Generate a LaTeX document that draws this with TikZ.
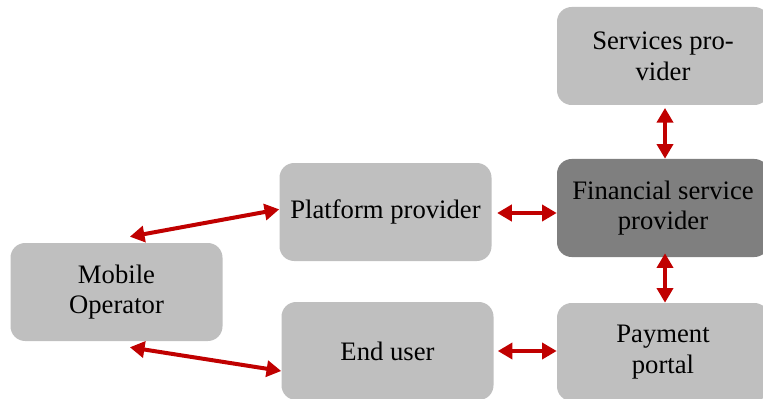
\documentclass[tikz,border=0pt]{standalone}
\usepackage{fontspec}
\setmainfont{Liberation Serif}
\usetikzlibrary{arrows.meta}

\definecolor{boxgray}{HTML}{BFBFBF}
\definecolor{darkgray}{HTML}{7F7F7F}
\definecolor{linkred}{HTML}{C00000}

\tikzset{
  actor/.style={fill=boxgray, rounded corners=11pt, minimum width=159pt,
    minimum height=73.5pt, align=center, inner sep=2pt,
    font=\fontsize{20}{23}\selectfont},
  link/.style={linkred, line width=3pt,
    {Triangle[length=11pt,width=12pt]}-{Triangle[length=11pt,width=12pt]}}
}

\begin{document}
\begin{tikzpicture}[x=0.75pt,y=-0.75pt]
      \useasboundingbox (0,0) rectangle (763,399);
      \node[actor] (serv) at (663,56) {Services pro-\\vider};
      \node[actor, fill=darkgray] (fin) at (663,208) {Financial service\\provider};
      \node[actor] (pay) at (663,352) {Payment\\portal};
      \node[actor] (plat) at (385.5,212) {Platform provider};
      \node[actor] (user) at (387.5,351) {End user};
      \node[actor] (mob) at (116.5,292) {Mobile\\Operator};

      % links to the mobile operator
      \draw[link] ([xshift=10pt,yshift=4.5pt]mob.north) -- ([yshift=2pt]plat.west);
      \draw[link] ([xshift=10pt,yshift=-4.5pt]mob.south) -- ([yshift=-15pt]user.west);
      % horizontal links
      \draw[link] ([xshift=4pt,yshift=-0.75pt]plat.east) -- ([yshift=-0.75pt]plat.east -| fin.west);
      \draw[link] ([xshift=3pt]user.east) -- (user.east -| pay.west);
      % vertical links
      \draw[link] ([xshift=1.5pt,yshift=-2pt]serv.south) -- ([xshift=1.5pt]fin.north);
      \draw[link] ([xshift=1.5pt,yshift=3pt]fin.south) -- ([xshift=1.5pt]pay.north);
\end{tikzpicture}
\end{document}
